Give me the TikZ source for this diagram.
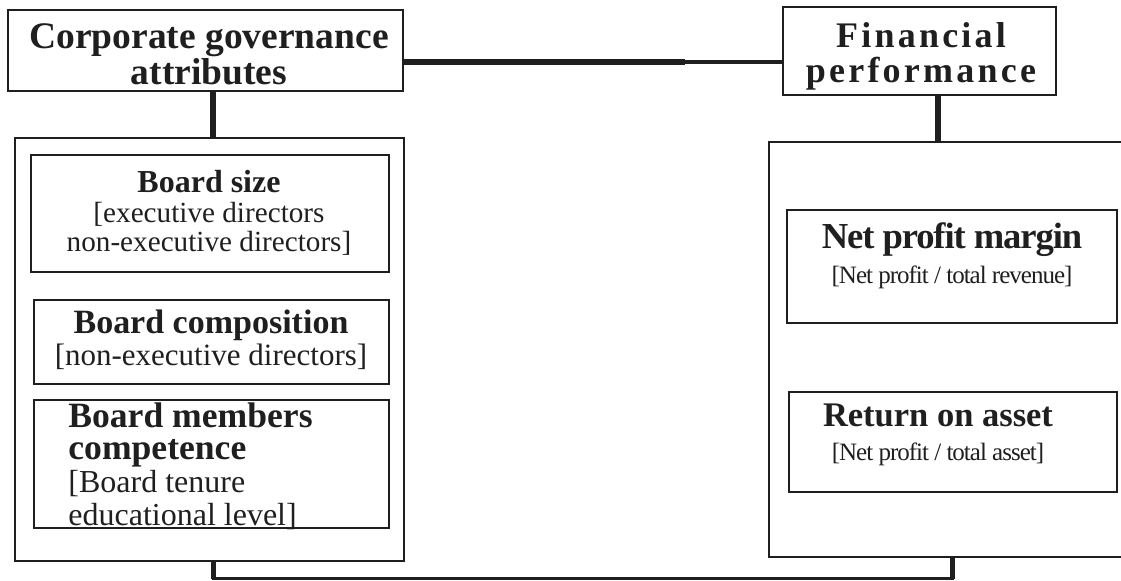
\documentclass[tikz,border=0pt]{standalone}
\usepackage{fontspec}
\setmainfont{Liberation Serif}
\usetikzlibrary{fit}
\newcommand{\setfs}[1]{\fontsize{#1}{#1}\selectfont}

\begin{document}
\begin{tikzpicture}[x=0.5pt,y=-0.5pt,
    box/.style={draw=black!88, line width=1pt, inner sep=0pt},
    txt/.style={inner sep=0pt, align=center, text=black!88},
    link/.style={draw=black!88, line width=3pt},
    thinlink/.style={draw=black!88, line width=2pt}]
  \useasboundingbox (0,0) rectangle (1121,581);

  % headings
  \node[box, fit={(8,10) (403,91)}] (cga) {};
  \node[box, fit={(783,7) (1056,95)}] (fp) {};
  \node[txt, font=\fontsize{18.75}{16.5}\selectfont\bfseries] (cgaText) at (209,54) {Corporate governance\\attributes};
  \node[txt, font=\fontsize{18}{17.5}\selectfont\bfseries\addfontfeature{LetterSpace=9}] (fpText) at (921,56) {Financial\\performance};

  % outer frames
  \node[box, fit={(15,138) (404,561)}] (lbox) {};
  \node[box, fit={(769,142) (1135,557)}] (rbox) {};

  % governance attributes
  \node[box, line width=1.4pt, fit={(31,155) (389,272)}] (size) {};
  \node[box, fit={(34,300) (389,384)}] (comp) {};
  \node[box, fit={(34,400) (389,528)}] (compet) {};
  \node[txt, font=\fontsize{14.6}{14.75}\selectfont] (sizeText) at (209,213) {{\setfs{16}\bfseries Board size}\\{[}executive directors\\non-executive directors]};
  \node[txt, font=\fontsize{15.5}{16}\selectfont] (compText) at (211,340) {{\setfs{17}\bfseries Board composition}\\{[}non-executive directors]};
  \node[txt, align=left, anchor=west, font=\fontsize{16}{16.3}\selectfont] (competText) at (68,466) {{\setfs{17.8}\bfseries Board members}\\{\setfs{17.8}\bfseries competence}\\{[}Board tenure\\educational level]};

  % performance measures
  \node[box, fit={(787,210) (1117,323)}] (npm) {};
  \node[box, fit={(789,392) (1117,492)}] (roa) {};
  \node[txt, font=\fontsize{12.5}{17.5}\selectfont] (npmText) at (952,256) {{\setfs{18.3}\bfseries\addfontfeature{LetterSpace=-3}Net profit margin}\\\addfontfeature{LetterSpace=-4}[Net profit / total revenue]};
  \node[txt, font=\fontsize{12.5}{17}\selectfont] (roaText) at (938,435) {{\setfs{17.25}\bfseries Return on asset}\\\addfontfeature{LetterSpace=-4}[Net profit / total asset]};

  % connectors
  \coordinate (lx) at (213,0);
  \coordinate (rx) at (938,0);
  \coordinate (hmid) at (685,62);
  \coordinate (bl) at (213,579);
  \coordinate (br) at (952,579);
  \draw[link] (cga.south -| lx) -- (lbox.north -| lx);
  \draw[link] (fp.south -| rx) -- (rbox.north -| rx);
  \draw[link] (cga.east |- hmid) -- (hmid);
  \draw[thinlink] (hmid) -- (fp.west |- hmid);
  \draw[draw=black!88, line width=1.5pt, line cap=rect] (bl) -- (br);
  \draw[draw=black!88, line width=2.5pt] (lbox.south -| bl) -- (bl);
  \draw[draw=black!88, line width=2.5pt] (rbox.south -| br) -- (br);
\end{tikzpicture}
\end{document}
